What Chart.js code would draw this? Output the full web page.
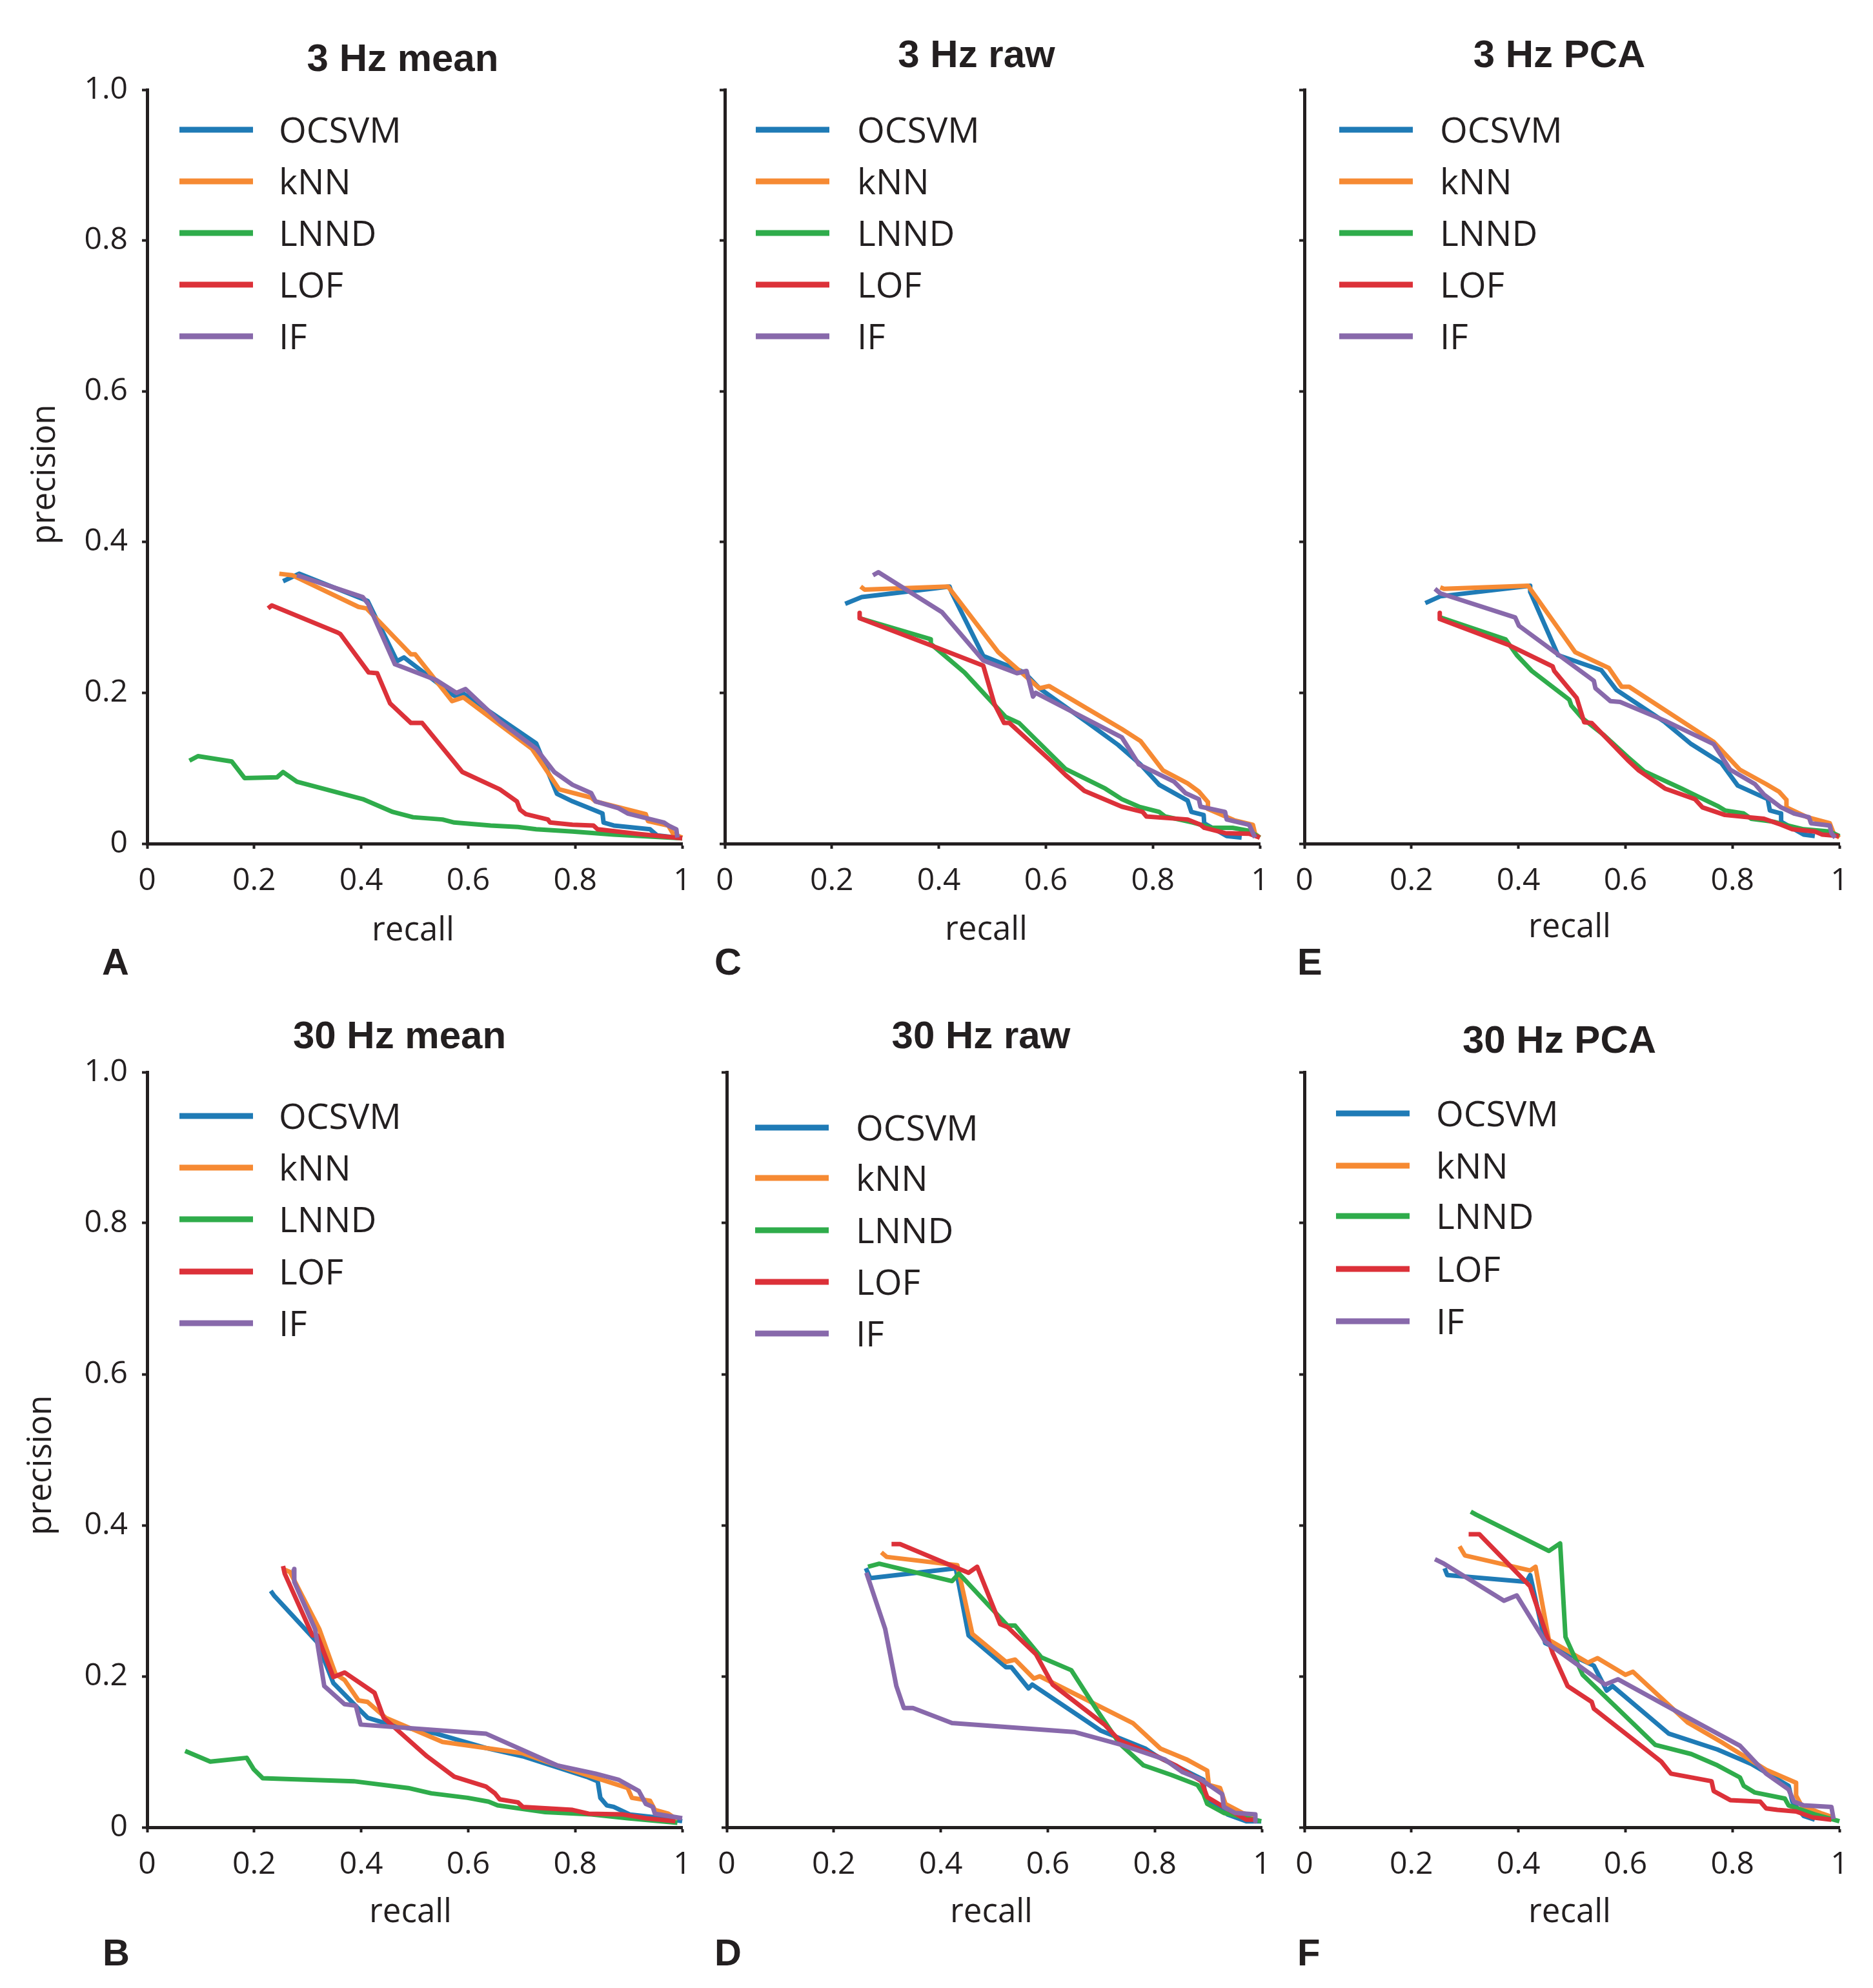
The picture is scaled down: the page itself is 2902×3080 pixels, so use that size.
<!DOCTYPE html>
<html>
<head>
<meta charset="utf-8">
<script src="https://cdn.jsdelivr.net/npm/chart.js@4.4.0/dist/chart.umd.min.js"></script>
<style>
    html, body { margin: 0; padding: 0; background: #fff; }
    body { width: 2902px; height: 3080px; position: relative; overflow: hidden; }
    canvas { position: absolute; }
</style>
</head>
<body>
<canvas id="panelA"></canvas>
<canvas id="panelC"></canvas>
<canvas id="panelE"></canvas>
<canvas id="panelB"></canvas>
<canvas id="panelD"></canvas>
<canvas id="panelF"></canvas>
<script>
// Precision-recall curves, values as [recall, precision]
const METHODS = ['OCSVM', 'kNN', 'LNND', 'LOF', 'IF'];
const COLORS = ['#1f7bb6', '#f68a33', '#2fac4b', '#dc3139', '#8869ab'];
const X_TICKS = [0, 0.2, 0.4, 0.6, 0.8, 1];
const X_TICK_LABELS = ['0', '0.2', '0.4', '0.6', '0.8', '1'];
const Y_TICKS = [0, 0.2, 0.4, 0.6, 0.8, 1];
const Y_TICK_LABELS = ['0', '0.2', '0.4', '0.6', '0.8', '1.0'];

// A - 3 Hz mean
const A_OCSVM = [[0.254,0.348],[0.284,0.358],[0.412,0.322],[0.467,0.242],[0.48,0.247],[0.574,0.196],[0.591,0.199],[0.727,0.133],[0.766,0.066],[0.795,0.056],[0.851,0.040],[0.853,0.028],[0.872,0.024],[0.94,0.019],[0.953,0.011],[0.99,0.008]];
const A_KNN = [[0.247,0.358],[0.271,0.356],[0.395,0.314],[0.41,0.312],[0.493,0.251],[0.501,0.251],[0.57,0.189],[0.591,0.194],[0.719,0.126],[0.77,0.072],[0.83,0.061],[0.838,0.056],[0.932,0.039],[0.936,0.030],[0.974,0.024],[0.983,0.013],[1.0,0.008]];
const A_LNND = [[0.079,0.110],[0.095,0.116],[0.158,0.109],[0.182,0.087],[0.243,0.088],[0.254,0.095],[0.28,0.082],[0.403,0.059],[0.459,0.042],[0.497,0.035],[0.552,0.032],[0.574,0.028],[0.642,0.024],[0.693,0.022],[0.727,0.019],[0.795,0.016],[0.872,0.012],[1.0,0.007]];
const A_LOF = [[0.226,0.312],[0.233,0.316],[0.356,0.280],[0.361,0.278],[0.414,0.227],[0.43,0.226],[0.454,0.186],[0.493,0.160],[0.514,0.160],[0.589,0.095],[0.659,0.072],[0.691,0.056],[0.697,0.045],[0.708,0.039],[0.749,0.032],[0.753,0.028],[0.795,0.025],[0.834,0.024],[0.842,0.019],[0.915,0.013],[1.0,0.007]];
const A_IF = [[0.28,0.356],[0.403,0.327],[0.413,0.318],[0.463,0.238],[0.54,0.217],[0.578,0.200],[0.595,0.205],[0.659,0.162],[0.727,0.126],[0.761,0.095],[0.795,0.078],[0.83,0.067],[0.838,0.056],[0.881,0.047],[0.898,0.040],[0.932,0.034],[0.966,0.028],[0.974,0.024],[0.989,0.019],[0.991,0.008]];

// C - 3 Hz raw
const C_OCSVM = [[0.225,0.318],[0.256,0.327],[0.42,0.341],[0.424,0.333],[0.483,0.249],[0.56,0.227],[0.588,0.206],[0.679,0.160],[0.735,0.131],[0.777,0.105],[0.812,0.078],[0.865,0.057],[0.872,0.042],[0.895,0.038],[0.896,0.027],[0.938,0.010],[0.966,0.008]];
const C_KNN = [[0.254,0.341],[0.261,0.337],[0.417,0.341],[0.511,0.254],[0.588,0.206],[0.606,0.209],[0.742,0.152],[0.777,0.136],[0.819,0.097],[0.865,0.080],[0.886,0.069],[0.903,0.055],[0.903,0.046],[0.952,0.031],[0.987,0.025],[0.991,0.013],[1.0,0.008]];
const C_LNND = [[0.252,0.299],[0.385,0.271],[0.385,0.265],[0.448,0.227],[0.525,0.168],[0.55,0.160],[0.637,0.099],[0.711,0.073],[0.742,0.059],[0.774,0.049],[0.812,0.042],[0.823,0.036],[0.875,0.028],[0.91,0.021],[0.949,0.021],[0.98,0.017],[1.0,0.008]];
const C_LOF = [[0.252,0.306],[0.252,0.299],[0.378,0.265],[0.483,0.236],[0.504,0.185],[0.522,0.160],[0.532,0.160],[0.609,0.110],[0.637,0.091],[0.672,0.070],[0.742,0.049],[0.781,0.042],[0.788,0.036],[0.865,0.032],[0.889,0.025],[0.896,0.021],[0.935,0.014],[0.98,0.013],[1.0,0.008]];
const C_IF = [[0.277,0.356],[0.287,0.360],[0.406,0.307],[0.483,0.243],[0.546,0.226],[0.564,0.229],[0.576,0.195],[0.581,0.200],[0.742,0.141],[0.774,0.105],[0.84,0.082],[0.861,0.067],[0.886,0.059],[0.889,0.049],[0.935,0.042],[0.938,0.032],[0.98,0.025],[0.991,0.008]];

// E - 3 Hz PCA
const E_OCSVM = [[0.226,0.319],[0.254,0.328],[0.422,0.342],[0.422,0.334],[0.474,0.250],[0.555,0.230],[0.583,0.204],[0.674,0.161],[0.723,0.132],[0.779,0.107],[0.81,0.077],[0.866,0.059],[0.87,0.044],[0.891,0.040],[0.891,0.029],[0.933,0.012],[0.954,0.010]];
const E_KNN = [[0.254,0.340],[0.261,0.338],[0.418,0.342],[0.506,0.254],[0.569,0.233],[0.593,0.208],[0.607,0.208],[0.765,0.135],[0.814,0.098],[0.863,0.079],[0.887,0.069],[0.901,0.058],[0.901,0.048],[0.94,0.035],[0.982,0.027],[0.989,0.014],[1.0,0.008]];
const E_LNND = [[0.254,0.300],[0.376,0.271],[0.397,0.250],[0.425,0.229],[0.495,0.191],[0.499,0.183],[0.52,0.166],[0.558,0.145],[0.604,0.115],[0.635,0.096],[0.705,0.073],[0.737,0.062],[0.772,0.050],[0.786,0.044],[0.821,0.040],[0.835,0.033],[0.877,0.029],[0.898,0.025],[0.933,0.019],[0.982,0.016],[1.0,0.010]];
const E_LOF = [[0.253,0.306],[0.253,0.298],[0.38,0.264],[0.464,0.235],[0.467,0.229],[0.509,0.193],[0.523,0.161],[0.537,0.160],[0.604,0.111],[0.625,0.097],[0.674,0.073],[0.73,0.059],[0.744,0.048],[0.786,0.038],[0.859,0.033],[0.891,0.025],[0.912,0.019],[0.954,0.016],[0.968,0.012],[0.999,0.010]];
const E_IF = [[0.244,0.338],[0.254,0.332],[0.394,0.300],[0.401,0.289],[0.541,0.216],[0.544,0.206],[0.572,0.189],[0.59,0.188],[0.674,0.163],[0.765,0.132],[0.796,0.098],[0.842,0.079],[0.859,0.065],[0.891,0.048],[0.915,0.040],[0.943,0.035],[0.947,0.027],[0.982,0.024],[0.985,0.014],[0.992,0.008]];

// B - 30 Hz mean
const B_OCSVM = [[0.231,0.313],[0.237,0.307],[0.318,0.245],[0.348,0.191],[0.395,0.157],[0.412,0.145],[0.454,0.136],[0.54,0.124],[0.633,0.105],[0.702,0.094],[0.821,0.067],[0.842,0.061],[0.847,0.039],[0.859,0.029],[0.872,0.027],[0.902,0.017],[0.966,0.012],[1.0,0.008]];
const B_KNN = [[0.254,0.342],[0.267,0.338],[0.322,0.262],[0.352,0.203],[0.369,0.195],[0.395,0.168],[0.412,0.166],[0.446,0.145],[0.552,0.113],[0.702,0.098],[0.766,0.082],[0.898,0.052],[0.906,0.039],[0.94,0.035],[0.949,0.023],[0.974,0.018],[0.991,0.010]];
const B_LNND = [[0.071,0.101],[0.118,0.087],[0.186,0.092],[0.199,0.077],[0.216,0.065],[0.386,0.061],[0.488,0.052],[0.531,0.045],[0.599,0.039],[0.638,0.034],[0.655,0.029],[0.744,0.020],[0.83,0.017],[0.898,0.012],[0.991,0.006]];
const B_LOF = [[0.254,0.346],[0.257,0.336],[0.309,0.254],[0.318,0.254],[0.348,0.199],[0.369,0.205],[0.425,0.178],[0.442,0.145],[0.523,0.094],[0.574,0.067],[0.633,0.054],[0.65,0.045],[0.659,0.037],[0.693,0.033],[0.702,0.027],[0.795,0.023],[0.825,0.018],[0.889,0.017],[0.932,0.012],[0.987,0.008]];
const B_IF = [[0.274,0.342],[0.275,0.325],[0.314,0.262],[0.331,0.187],[0.369,0.163],[0.39,0.161],[0.399,0.136],[0.633,0.124],[0.766,0.082],[0.838,0.071],[0.881,0.063],[0.919,0.048],[0.932,0.031],[0.945,0.027],[0.949,0.018],[1.0,0.012]];

// D - 30 Hz raw
const D_OCSVM = [[0.26,0.343],[0.268,0.330],[0.428,0.343],[0.452,0.254],[0.522,0.212],[0.532,0.212],[0.564,0.184],[0.571,0.189],[0.699,0.128],[0.783,0.104],[0.804,0.094],[0.891,0.063],[0.894,0.040],[0.915,0.027],[0.936,0.017],[0.971,0.008],[0.999,0.008]];
const D_KNN = [[0.289,0.364],[0.299,0.358],[0.431,0.347],[0.459,0.256],[0.522,0.219],[0.539,0.222],[0.574,0.197],[0.585,0.200],[0.759,0.138],[0.811,0.104],[0.859,0.090],[0.898,0.075],[0.901,0.056],[0.922,0.052],[0.932,0.031],[0.964,0.019],[0.985,0.014]];
const D_LNND = [[0.264,0.345],[0.285,0.349],[0.421,0.326],[0.434,0.336],[0.525,0.267],[0.539,0.267],[0.588,0.225],[0.644,0.208],[0.692,0.155],[0.734,0.111],[0.779,0.082],[0.832,0.069],[0.88,0.056],[0.891,0.044],[0.898,0.031],[0.929,0.019],[0.999,0.008]];
const D_LOF = [[0.308,0.375],[0.324,0.375],[0.452,0.337],[0.468,0.345],[0.511,0.269],[0.525,0.265],[0.578,0.229],[0.609,0.189],[0.706,0.136],[0.734,0.115],[0.804,0.094],[0.839,0.082],[0.887,0.061],[0.898,0.040],[0.929,0.027],[0.971,0.010],[0.988,0.010]];
const D_IF = [[0.261,0.337],[0.296,0.263],[0.317,0.187],[0.331,0.158],[0.348,0.158],[0.421,0.138],[0.651,0.126],[0.734,0.110],[0.818,0.090],[0.852,0.073],[0.887,0.063],[0.926,0.044],[0.929,0.027],[0.95,0.019],[0.988,0.017],[0.988,0.008]];

// F - 30 Hz PCA
const F_OCSVM = [[0.262,0.343],[0.267,0.334],[0.415,0.325],[0.422,0.334],[0.45,0.244],[0.541,0.214],[0.565,0.181],[0.576,0.187],[0.681,0.124],[0.772,0.103],[0.835,0.084],[0.905,0.055],[0.912,0.034],[0.933,0.015],[0.954,0.010]];
const F_KNN = [[0.29,0.372],[0.3,0.360],[0.422,0.340],[0.432,0.345],[0.457,0.248],[0.53,0.218],[0.548,0.224],[0.6,0.202],[0.614,0.206],[0.716,0.139],[0.779,0.113],[0.863,0.076],[0.919,0.059],[0.919,0.042],[0.929,0.029],[0.968,0.018],[0.989,0.013]];
const F_LNND = [[0.311,0.418],[0.321,0.414],[0.457,0.366],[0.478,0.376],[0.488,0.252],[0.52,0.202],[0.656,0.109],[0.723,0.097],[0.772,0.082],[0.814,0.066],[0.821,0.055],[0.842,0.046],[0.898,0.038],[0.905,0.029],[0.954,0.017],[1.0,0.008]];
const F_LOF = [[0.307,0.388],[0.327,0.388],[0.422,0.319],[0.464,0.231],[0.492,0.187],[0.537,0.166],[0.541,0.157],[0.667,0.087],[0.685,0.071],[0.761,0.061],[0.765,0.048],[0.796,0.036],[0.852,0.034],[0.863,0.025],[0.884,0.023],[0.919,0.021],[0.95,0.013],[0.985,0.010]];
const F_IF = [[0.244,0.355],[0.261,0.349],[0.373,0.300],[0.397,0.307],[0.45,0.246],[0.562,0.189],[0.586,0.196],[0.702,0.151],[0.814,0.108],[0.863,0.071],[0.905,0.050],[0.915,0.034],[0.933,0.029],[0.985,0.027],[0.989,0.011]];

const INK = '#231f20';
const TICK_FONT = '"Open Sans", "Noto Sans", sans-serif';
const TITLE_FONT = '"Liberation Sans", Arial, sans-serif';

// every canvas keeps the same room left and right of its plot, so the
// library's layout treats all six panels alike (canvases are transparent and may overlap)
const LEFT_ROOM = 228;
const RIGHT_ROOM = 43;
const ROW_H = 1540;

// page layout (px): plot box and text anchors for each panel
const PANELS = [
    { id: 'panelA', letter: 'A', title: '3 Hz mean', series: [A_OCSVM, A_KNN, A_LNND, A_LOF, A_IF],
      cy: 0, L: 228, R: 1057, T: 139, B: 1307, yLabels: true,
      titleX: 624, titleY: 110, legX: 278, legTextX: 432, legRows: [201, 281, 361, 441, 521],
      recallX: 640, recallY: 1457, precX: 70, precY: 735, letterX: 158, letterY: 1510 },
    { id: 'panelC', letter: 'C', title: '3 Hz raw', series: [C_OCSVM, C_KNN, C_LNND, C_LOF, C_IF],
      cy: 0, L: 1123, R: 1952, T: 139, B: 1307, yLabels: false,
      titleX: 1513, titleY: 104, legX: 1171, legTextX: 1328, legRows: [201, 281, 361, 441, 521],
      recallX: 1528, recallY: 1456, letterX: 1107, letterY: 1510 },
    { id: 'panelE', letter: 'E', title: '3 Hz PCA', series: [E_OCSVM, E_KNN, E_LNND, E_LOF, E_IF],
      cy: 0, L: 2021, R: 2850, T: 139, B: 1307, yLabels: false,
      titleX: 2416, titleY: 104, legX: 2075, legTextX: 2231, legRows: [201, 281, 361, 441, 521],
      recallX: 2432, recallY: 1452, letterX: 2010, letterY: 1510 },
    { id: 'panelB', letter: 'B', title: '30 Hz mean', series: [B_OCSVM, B_KNN, B_LNND, B_LOF, B_IF],
      cy: 1540, L: 228, R: 1057, T: 1661, B: 2831, yLabels: true,
      titleX: 619, titleY: 1624, legX: 278, legTextX: 432, legRows: [1729, 1809, 1889, 1970, 2050],
      recallX: 636, recallY: 2978, precX: 64, precY: 2270, letterX: 159, letterY: 3045 },
    { id: 'panelD', letter: 'D', title: '30 Hz raw', series: [D_OCSVM, D_KNN, D_LNND, D_LOF, D_IF],
      cy: 1540, L: 1126, R: 1955, T: 1661, B: 2831, yLabels: false,
      titleX: 1520, titleY: 1624, legX: 1170, legTextX: 1326, legRows: [1747, 1825, 1906, 1986, 2066],
      recallX: 1536, recallY: 2978, letterX: 1107, letterY: 3045 },
    { id: 'panelF', letter: 'F', title: '30 Hz PCA', series: [F_OCSVM, F_KNN, F_LNND, F_LOF, F_IF],
      cy: 1540, L: 2021, R: 2850, T: 1661, B: 2831, yLabels: false,
      titleX: 2416, titleY: 1631, legX: 2070, legTextX: 2225, legRows: [1725, 1806, 1884, 1966, 2047],
      recallX: 2432, recallY: 2978, letterX: 2010, letterY: 3045 }
];

const LEGEND_LINE = 114;

// titles, legend, axis titles and panel letter
function makeTextPlugin(p) {
    return {
        id: 'panelText' + p.letter,
        afterDraw: function(chart) {
            const ctx = chart.ctx;
            ctx.save();
            ctx.translate(-p.cx, -p.cy);
            ctx.fillStyle = INK;
            ctx.textBaseline = 'alphabetic';

            ctx.font = 'bold 60px ' + TITLE_FONT;
            ctx.textAlign = 'center';
            ctx.fillText(p.title, p.titleX, p.titleY);

            // legend
            ctx.font = '55px ' + TICK_FONT;
            ctx.textAlign = 'left';
            METHODS.forEach((name, i) => {
                const y = p.legRows[i];
                ctx.strokeStyle = COLORS[i];
                ctx.lineWidth = 9;
                ctx.lineCap = 'butt';
                ctx.beginPath();
                ctx.moveTo(p.legX, y);
                ctx.lineTo(p.legX + LEGEND_LINE, y);
                ctx.stroke();
                ctx.fillText(name, p.legTextX, y + 20);
            });

            ctx.font = '51px ' + TICK_FONT;
            ctx.textAlign = 'center';
            ctx.fillText('recall', p.recallX, p.recallY);

            if (p.precX !== undefined) {
                ctx.save();
                ctx.translate(p.precX, p.precY);
                ctx.rotate(-Math.PI / 2);
                ctx.textBaseline = 'middle';
                ctx.fillText('precision', 0, 0);
                ctx.restore();
            }

            ctx.font = 'bold 58px ' + TITLE_FONT;
            ctx.textAlign = 'left';
            ctx.fillText(p.letter, p.letterX, p.letterY);
            ctx.restore();
        }
    };
}

PANELS.forEach(p => {
    p.cx = p.L - LEFT_ROOM;
    p.cw = LEFT_ROOM + (p.R - p.L) + RIGHT_ROOM;
    p.ch = ROW_H;

    const canvas = document.getElementById(p.id);
    canvas.width = p.cw;
    canvas.height = p.ch;
    canvas.style.left = p.cx + 'px';
    canvas.style.top = p.cy + 'px';
    canvas.style.width = p.cw + 'px';
    canvas.style.height = p.ch + 'px';

    new Chart(canvas, {
        type: 'line',
        data: {
            datasets: p.series.map((s, i) => ({
                label: METHODS[i],
                data: s.map(d => ({ x: d[0], y: d[1] })),
                borderColor: COLORS[i],
                backgroundColor: COLORS[i],
                borderWidth: 7,
                borderJoinStyle: 'round',
                pointRadius: 0,
                tension: 0,
                fill: false,
                clip: false,
                order: METHODS.length - i // later methods drawn on top
            }))
        },
        options: {
            responsive: false,
            animation: false,
            devicePixelRatio: 1,
            layout: {
                padding: { left: 0, top: p.T - p.cy, right: RIGHT_ROOM, bottom: 0 }
            },
            plugins: {
                legend: { display: false },
                tooltip: { enabled: false },
                title: { display: false }
            },
            scales: {
                x: {
                    type: 'linear',
                    min: 0,
                    max: 1,
                    afterFit: function(scale) { scale.height = p.cy + p.ch - p.B; },
                    afterBuildTicks: function(scale) { scale.ticks = X_TICKS.map(v => ({ value: v })); },
                    border: { display: true, color: INK, width: 5 },
                    grid: { drawOnChartArea: false, drawTicks: true, tickLength: 8, tickWidth: 4, tickColor: INK },
                    ticks: {
                        autoSkip: false,
                        maxRotation: 0,
                        padding: 22,
                        color: INK,
                        font: { family: TICK_FONT, size: 48 },
                        callback: function(value, index) { return X_TICK_LABELS[index]; }
                    }
                },
                y: {
                    type: 'linear',
                    min: 0,
                    max: 1,
                    afterFit: function(scale) { scale.width = LEFT_ROOM; },
                    afterBuildTicks: function(scale) { scale.ticks = Y_TICKS.map(v => ({ value: v })); },
                    border: { display: true, color: INK, width: 5 },
                    grid: { drawOnChartArea: false, drawTicks: true, tickLength: 8, tickWidth: 4, tickColor: INK },
                    ticks: {
                        autoSkip: false,
                        padding: 22,
                        color: INK,
                        font: { family: TICK_FONT, size: 48 },
                        callback: function(value, index) { return p.yLabels ? Y_TICK_LABELS[index] : ''; }
                    }
                }
            }
        },
        plugins: [makeTextPlugin(p)]
    });
});
</script>
</body>
</html>
